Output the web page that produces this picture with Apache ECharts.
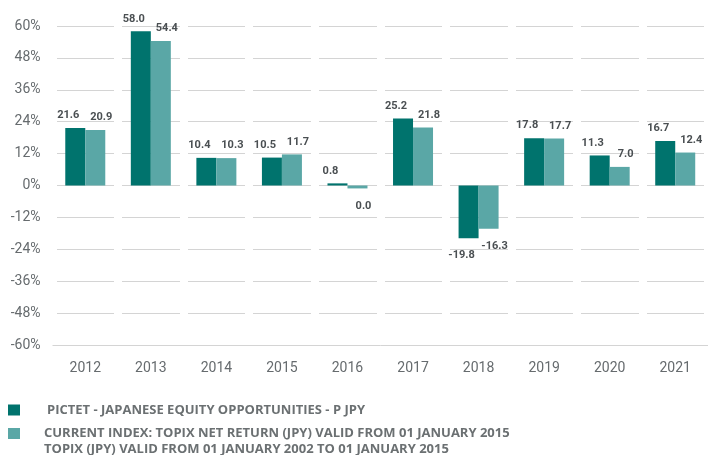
<!DOCTYPE html>
<html>
<head>
<meta charset="utf-8">
<script src="https://cdn.jsdelivr.net/npm/echarts@6/dist/echarts.min.js"></script>
<style>
  html, body { margin: 0; padding: 0; background: #fff; }
  #chart { width: 708px; height: 455px; }
</style>
</head>
<body>
<div id="chart"></div>
<script>
// data
const years = ['2012', '2013', '2014', '2015', '2016', '2017', '2018', '2019', '2020', '2021'];
const fundValues = [21.6, 58.0, 10.4, 10.5, 0.8, 25.2, -19.8, 17.8, 11.3, 16.7];
const indexValues = [20.9, 54.4, 10.3, 11.7, -1.1, 21.8, -16.3, 17.7, 7.0, 12.4];
const fundLabels = ['21.6', '58.0', '10.4', '10.5', '0.8', '25.2', '-19.8', '17.8', '11.3', '16.7'];
const indexLabels = ['20.9', '54.4', '10.3', '11.7', '0.0', '21.8', '-16.3', '17.7', '7.0', '12.4'];
const fundName = 'PICTET - JAPANESE EQUITY OPPORTUNITIES - P JPY';
const indexName = 'CURRENT INDEX: TOPIX NET RETURN (JPY) VALID FROM 01 JANUARY 2015\nTOPIX (JPY) VALID FROM 01 JANUARY 2002 TO 01 JANUARY 2015';

const chart = echarts.init(document.getElementById('chart'));

const labelStyle = {
  show: true,
  fontFamily: 'Roboto',
  fontSize: 11,
  fontWeight: 'bold',
  color: '#4a4f52',
  distance: 7
};

// per-bar label: below the bar when negative
const makeData = (values, labels, dx) => values.map((v, i) => ({
  value: v,
  label: {
    position: v < 0 ? 'bottom' : 'top',
    distance: v < 0 ? 12 : 7,
    offset: [dx, 0],
    formatter: labels[i]
  }
}));

const legendText = {
  fontFamily: 'Open Sans',
  fontSize: 13,
  fontWeight: 'bold',
  color: '#6b7072',
  padding: [0, 0, 0, 22],
  lineHeight: 16
};

const option = {
  animation: false,
  textStyle: { fontFamily: 'Roboto' },
  legend: [
    {
      left: 8, top: 402, padding: 0,
      itemWidth: 12, itemHeight: 11, icon: 'rect', selectedMode: false,
      textStyle: legendText,
      data: [fundName]
    },
    {
      // square sits beside the first line of the two-line label
      left: 8, top: 425, padding: 0,
      itemWidth: 12, itemHeight: 26, selectedMode: false,
      icon: 'path://M0,0L12,0L12,11L0,11Z M0,26L0,26Z',
      textStyle: Object.assign({}, legendText, { padding: [0, 0, 0, 19] }),
      data: [indexName]
    }
  ],
  grid: {
    left: 52.5,
    right: -3,
    top: 26,
    bottom: 110
  },
  xAxis: {
    type: 'category',
    data: years,
    z: 1,
    axisLine: { show: false },
    axisTick: { show: false },
    axisLabel: { color: '#666b6e', fontSize: 14, margin: 16 },
    splitLine: { show: true, lineStyle: { color: '#fff', width: 8 } }
  },
  yAxis: {
    type: 'value',
    min: -60,
    max: 60,
    interval: 12,
    z: 0,
    axisLine: { show: false },
    axisTick: { show: false },
    axisLabel: { color: '#666b6e', fontSize: 14, margin: 12, formatter: '{value}%' },
    splitLine: { lineStyle: { color: '#d4d4d4', width: 1 } }
  },
  series: [
    {
      name: fundName,
      type: 'bar',
      barWidth: 20,
      barGap: '0%',
      itemStyle: { color: '#00736d' },
      label: labelStyle,
      data: makeData(fundValues, fundLabels, -7)
    },
    {
      name: indexName,
      type: 'bar',
      barWidth: 20,
      barGap: '0%',
      itemStyle: { color: '#5aa7a6' },
      label: labelStyle,
      data: makeData(indexValues, indexLabels, 6)
    }
  ]
};

chart.setOption(option);
</script>
</body>
</html>
